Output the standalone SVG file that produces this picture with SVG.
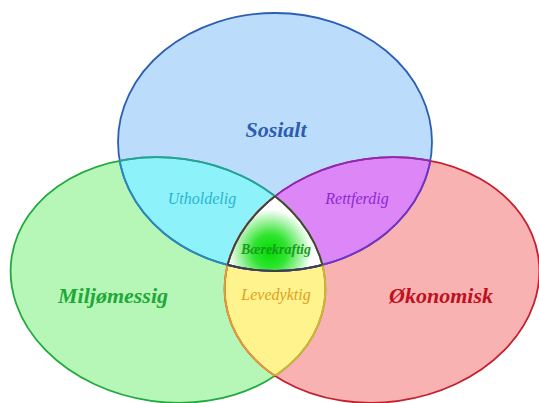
<svg xmlns="http://www.w3.org/2000/svg" width="539" height="403" viewBox="0 0 539 403">
<defs>
<style>
.big{font-family:"Liberation Serif","Times New Roman",serif;font-style:italic;font-weight:bold;font-size:22px;text-anchor:middle}
.mid{font-family:"Liberation Serif","Times New Roman",serif;font-style:italic;font-size:16px;text-anchor:middle}
.small{font-family:"Liberation Serif","Times New Roman",serif;font-style:italic;font-weight:bold;font-size:14px;text-anchor:middle}
.ln{fill:none;stroke-width:1.8}
</style>
<ellipse id="eT" cx="275" cy="142" rx="157" ry="129"/>
<ellipse id="eL" cx="168" cy="280" rx="158" ry="122" transform="rotate(8 168 280)"/>
<ellipse id="eR" cx="382" cy="280" rx="158" ry="122" transform="rotate(-8 382 280)"/>
<clipPath id="cT"><use href="#eT"/></clipPath>
<clipPath id="cL"><use href="#eL"/></clipPath>
<clipPath id="cR"><use href="#eR"/></clipPath>
<radialGradient id="gC" cx="275" cy="236" r="42" gradientUnits="userSpaceOnUse">
<stop offset="0" stop-color="#00dc00"/>
<stop offset="0.4" stop-color="#30e430"/>
<stop offset="1" stop-color="#ffffff"/>
</radialGradient>
</defs>
<rect width="539" height="403" fill="#ffffff"/>
<g id="sosialt">
<use href="#eT" fill="#bcdcfb"/>
</g>
<g id="miljomessig">
<use href="#eL" fill="#b6f6b6"/>
</g>
<g id="okonomisk">
<use href="#eR" fill="#f8b2b2"/>
</g>
<g id="utholdelig">
<use href="#eL" fill="#8ef2fa" clip-path="url(#cT)"/>
</g>
<g id="rettferdig">
<use href="#eR" fill="#dc86f8" clip-path="url(#cT)"/>
</g>
<g id="levedyktig">
<g clip-path="url(#cL)"><use href="#eR" fill="#fff38e"/></g>
</g>
<g id="baerekraftig">
<g clip-path="url(#cT)"><g clip-path="url(#cL)"><use href="#eR" fill="url(#gC)"/></g></g>
</g>
<g id="connectors">
<use href="#eT" class="ln" stroke="#2b5fb4"/>
<use href="#eL" class="ln" stroke="#22aa40"/>
<use href="#eR" class="ln" stroke="#c42030"/>
<g clip-path="url(#cL)"><use href="#eT" class="ln" stroke="#2a8ab8"/></g>
<g clip-path="url(#cT)"><use href="#eL" class="ln" stroke="#24a0a0"/></g>
<g clip-path="url(#cR)"><use href="#eT" class="ln" stroke="#7a30c8"/></g>
<g clip-path="url(#cT)"><use href="#eR" class="ln" stroke="#8a28c0"/></g>
<g clip-path="url(#cR)"><use href="#eL" class="ln" stroke="#e0b030"/></g>
<g clip-path="url(#cL)"><use href="#eR" class="ln" stroke="#e0a030"/></g>
<g clip-path="url(#cT)"><g clip-path="url(#cL)"><use href="#eR" class="ln" stroke="#404040"/></g></g>
<g clip-path="url(#cT)"><g clip-path="url(#cR)"><use href="#eL" class="ln" stroke="#404040"/></g></g>
<g clip-path="url(#cL)"><g clip-path="url(#cR)"><use href="#eT" class="ln" stroke="#404040"/></g></g>
</g>
<g id="labels">
<text class="big" x="276" y="137" fill="#2b5db0">Sosialt</text>
<text class="big" x="113" y="303" fill="#20a838">Miljømessig</text>
<text class="big" x="441" y="303" fill="#c01020">Økonomisk</text>
<text class="mid" x="202" y="204" fill="#2ab4d0">Utholdelig</text>
<text class="mid" x="357" y="204" fill="#8a2ad0">Rettferdig</text>
<text class="mid" x="276" y="300" fill="#e0a020">Levedyktig</text>
<text class="small" x="276" y="254" fill="#1a9a20">Bærekraftig</text>
</g>
</svg>
